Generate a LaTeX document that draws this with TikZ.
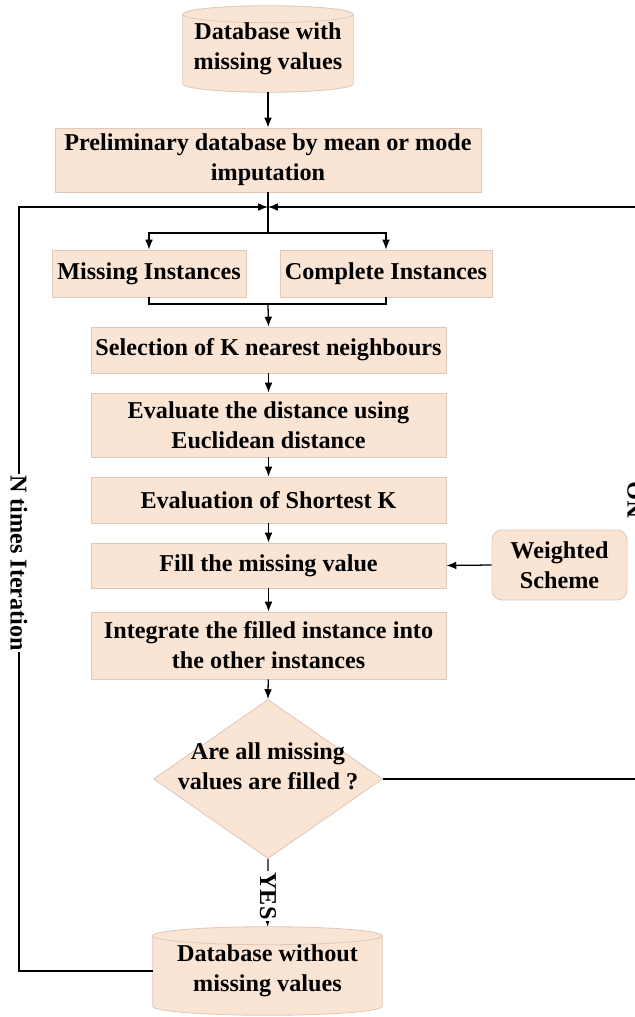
\documentclass[tikz,border=0pt]{standalone}
\usepackage{fontspec}
\setmainfont{Liberation Serif}
\usetikzlibrary{arrows.meta,shapes.geometric,calc,backgrounds}
\definecolor{peach}{RGB}{250,229,213}
\definecolor{peachline}{RGB}{222,200,186}
\def\px{0.025cm}
\newcommand\cylshape[2]{%
 \begin{scope}[on background layer]
 \path[fill=peach,draw=peachline,line width=0.6pt] let \p1=(#1.north west), \p2=(#1.south east), \n1={(\x2-\x1)/2}, \n2={#2} in
 (\x1,\y1-\n2) -- (\x1,\y2+\n2) arc[start angle=180,end angle=360,x radius=\n1,y radius=\n2] -- (\x2,\y1-\n2) arc[start angle=0,end angle=180,x radius=\n1,y radius=\n2] -- cycle;
 \path[draw=peachline,line width=0.6pt] let \p1=(#1.north west), \p2=(#1.south east), \n1={(\x2-\x1)/2}, \n2={#2} in (\x1,\y1-\n2) arc[start angle=180,end angle=360,x radius=\n1,y radius=\n2];
 \end{scope}}
\begin{document}
\begin{tikzpicture}[x=0.025cm,y=0.025cm,
  txt/.style={font=\bfseries\fontsize{17.2}{21.3}\selectfont, align=center, inner sep=0pt},
  box/.style={txt, rectangle, fill=peach, draw=peachline, line width=0.6pt},
  arr/.style={line width=0.9pt, -{Latex[length=7pt,width=5.5pt]}},
  ln/.style={line width=0.9pt},
  lbl/.style={txt, fill=white, inner sep=1pt}
]
\useasboundingbox (0,0) rectangle (634,-1017);

\node[txt, minimum width=170*\px, minimum height=86*\px] (db1) at (268,-49) {Database with\\missing values};
\cylshape{db1}{8.5*\px}
\node[box, minimum width=426*\px, minimum height=64*\px] (pre) at (268,-160) {Preliminary database by mean or mode\\imputation};
\coordinate (J) at (268,-207);
\coordinate (S) at (268,-233);
\node[box, minimum width=194*\px, minimum height=47*\px] (miss) at (149,-273.5) {Missing Instances};
\node[box, minimum width=212*\px, minimum height=47*\px] (comp) at (386,-273.5) {Complete Instances};
\coordinate (M) at (268,-304);
\node[box, minimum width=355*\px, minimum height=46*\px] (sel) at (268.5,-350) {Selection of K nearest neighbours};
\node[box, minimum width=355*\px, minimum height=64*\px] (eva) at (268.5,-425) {Evaluate the distance using\\Euclidean distance};
\node[box, minimum width=355*\px, minimum height=46*\px] (sho) at (268.5,-500) {Evaluation of Shortest K};
\node[box, minimum width=355*\px, minimum height=45*\px] (fil) at (268.5,-565.5) {Fill the missing value};
\node[box, minimum width=355*\px, minimum height=67*\px] (int) at (268.5,-645.5) {Integrate the filled instance into\\the other instances};
\node[diamond, fill=peach, draw=peachline, line width=0.6pt, minimum width=229*\px, minimum height=159*\px, inner sep=0pt] (dec) at (268,-779) {};
\node[txt] (dect) at (268,-766) {Are all missing\\values are filled ?};
\node[txt, minimum width=229*\px, minimum height=88*\px] (db2) at (267.5,-971) {Database without\\missing values};
\cylshape{db2}{9*\px}
\node[box, rounded corners=0.25cm, minimum width=135*\px, minimum height=70*\px] (wts) at (559.5,-565) {Weighted\\Scheme};

\coordinate (lft) at (19,-600);
\coordinate (rgt) at (645,-500);

\draw[arr] (db1.south) -- (pre.north);
\draw[ln] (pre.south) -- (S);
\draw[arr] (S) -| (miss.north);
\draw[arr] (S) -| (comp.north);
\draw[ln] (miss.south) |- (M) -| (comp.south);
\draw[arr] (M) -- (sel.north);
\draw[arr] (sel) -- (eva);
\draw[arr] (eva) -- (sho);
\draw[arr] (sho) -- (fil);
\draw[arr] (fil) -- (int);
\draw[arr] (int) -- (dec.north);
\draw[arr] (wts.west) -- (fil.east);
\draw[arr] (dec.south) -- (db2.north);
\draw[arr] (db2.west) -| (lft) |- (J);
\draw[arr] (dec.east) -| (rgt) |- (J);

\node[lbl, rotate=-90] (yes) at (268,-896) {YES};
\node[lbl, rotate=-90] (ntl) at (19,-563) {N times Iteration};
\node[txt, rotate=90, anchor=north] (no) at (627,-500) {NO};
\end{tikzpicture}
\end{document}
